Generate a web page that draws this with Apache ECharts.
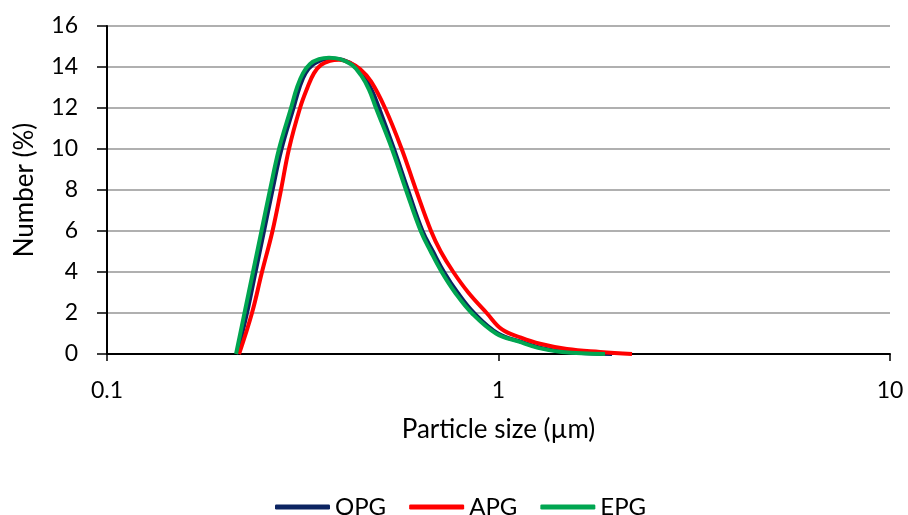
<!DOCTYPE html>
<html>
<head>
<meta charset="utf-8">
<script src="https://cdn.jsdelivr.net/npm/echarts@6/dist/echarts.min.js"></script>
<style>
  html, body { margin: 0; padding: 0; background: #fff; }
  #chart { width: 908px; height: 515px; }
</style>
</head>
<body>
<div id="chart"></div>
<script>
// particle size (um) and number (%)
var opgSize = [0.2148, 0.2278, 0.2395, 0.2518, 0.2647, 0.2791, 0.2995, 0.3102, 0.3214, 0.3359, 0.3541, 0.3756, 0.4007, 0.4300, 0.4534, 0.4752, 0.4952, 0.5408, 0.5872, 0.6396, 0.6803, 0.7257, 0.7857, 0.8658, 0.9971, 1.1415, 1.2844, 1.4874, 1.9497];
var opgNumber = [0, 2, 4, 6, 8, 10, 12, 13, 13.7, 14.12, 14.35, 14.42, 14.35, 14.05, 13.55, 12.85, 12, 10, 8, 6, 5, 4, 3, 2, 1.0, 0.6, 0.3, 0.1, 0];

var apgSize = [0.2174, 0.2346, 0.2488, 0.2647, 0.2782, 0.2916, 0.3112, 0.3252, 0.3379, 0.3521, 0.3711, 0.3914, 0.4175, 0.4429, 0.4724, 0.5130, 0.5659, 0.6156, 0.6724, 0.7118, 0.7666, 0.8373, 0.9330, 1.0208, 1.1415, 1.2764, 1.496, 1.817, 2.193];
var apgNumber = [0, 2, 4, 6, 8, 10, 12, 13, 13.7, 14.1, 14.3, 14.35, 14.2, 13.9, 13.3, 12, 10, 8, 6, 5, 4, 3, 2, 1.2, 0.8, 0.5, 0.24, 0.1, 0];

var epgSize = [0.2136, 0.2245, 0.2360, 0.2481, 0.2608, 0.2750, 0.2951, 0.3057, 0.3167, 0.3300, 0.3479, 0.3690, 0.3937, 0.4225, 0.4454, 0.4669, 0.4865, 0.5345, 0.5804, 0.6328, 0.6712, 0.7160, 0.7742, 0.8541, 0.9854, 1.1280, 1.2619, 1.4530, 1.8709];
var epgNumber = [0, 2, 4, 6, 8, 10, 12, 13, 13.7, 14.15, 14.38, 14.45, 14.38, 14.1, 13.6, 12.9, 12, 10, 8, 6, 5, 4, 3, 2, 1.0, 0.6, 0.3, 0.1, 0];

var names = ['OPG', 'APG', 'EPG'];
var colors = ['#0c2461', '#ff0000', '#00a651'];

function pairs(xs, ys) {
  return xs.map(function (x, i) { return [x, ys[i]]; });
}

var font = 'Lato, "Open Sans", sans-serif';
var chart = echarts.init(document.getElementById('chart'));

function line(i, xs, ys) {
  return {
    name: names[i],
    type: 'line',
    smooth: 0.4,
    smoothConstraint: false,
    symbol: 'none',
    lineStyle: { color: colors[i], width: 4 },
    itemStyle: { color: colors[i] },
    data: pairs(xs, ys)
  };
}

chart.setOption({
  animation: false,
  textStyle: { fontFamily: font, color: '#000' },
  grid: { left: 107, right: 18, top: 26, bottom: 161 },
  legend: {
    left: 270,
    top: 490,
    icon: 'roundRect',
    itemWidth: 55,
    itemHeight: 5,
    itemGap: 23,
    textStyle: { fontSize: 24, color: '#000', fontFamily: font },
    data: names
  },
  xAxis: {
    type: 'log',
    logBase: 10,
    min: 0.1,
    max: 10,
    name: 'Particle size (µm)',
    nameLocation: 'middle',
    nameGap: 63,
    nameTextStyle: { fontSize: 26, color: '#000' },
    axisLine: { lineStyle: { color: '#000', width: 2 } },
    axisTick: { show: true, length: 7, lineStyle: { color: '#000', width: 1.5 } },
    axisLabel: { fontSize: 23, color: '#000', margin: 25 },
    splitLine: { show: false },
    minorTick: { show: false }
  },
  yAxis: {
    type: 'value',
    min: 0,
    max: 16,
    interval: 2,
    name: 'Number (%)',
    nameLocation: 'middle',
    nameGap: 69,
    nameTextStyle: { fontSize: 26, color: '#000' },
    axisLine: { show: true, lineStyle: { color: '#000', width: 2 } },
    axisTick: { show: true, length: 10, lineStyle: { color: '#000', width: 1.5 } },
    axisLabel: { fontSize: 23, color: '#000', margin: 29 },
    splitLine: { show: true, lineStyle: { color: '#969696', width: 1.5 } }
  },
  series: [
    line(0, opgSize, opgNumber),
    line(1, apgSize, apgNumber),
    line(2, epgSize, epgNumber)
  ]
});
</script>
</body>
</html>
